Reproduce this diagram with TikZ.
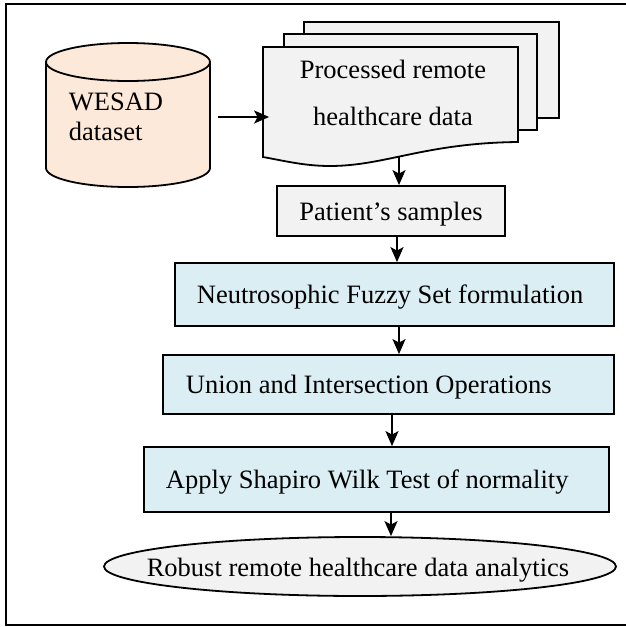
\documentclass[tikz,border=0pt]{standalone}
\usepackage{fontspec}
\setmainfont{Liberation Serif}
\usetikzlibrary{arrows.meta}
\definecolor{peach}{HTML}{FDE9D9}
\definecolor{paper}{HTML}{F2F2F2}
\definecolor{aqua}{HTML}{DAEEF3}
\begin{document}
\begin{tikzpicture}[x=1pt,y=-1pt,
  line width=1.8pt,
  every node/.style={font=\fontsize{26.5}{32}\selectfont},
  arr/.style={line width=2pt,-{Stealth[length=15pt,width=13pt,inset=3.5pt]}},
  greybox/.style={draw,fill=paper,inner sep=0pt},
  bluebox/.style={draw,fill=aqua,inner sep=0pt},
  lbl/.style={inner sep=0pt,anchor=base west}]
\useasboundingbox (0,0) rectangle (626,627);
% outer frame
\draw[line width=2.2pt] (6,4) rectangle (634,625);
% cylinder
\node[inner sep=0pt,minimum width=164pt,minimum height=144pt] (db) at (128,115) {};
\filldraw[fill=peach] (46,62) -- (46,168) arc[start angle=180,end angle=360,x radius=82pt,y radius=19pt]
  -- (210,62) arc[start angle=0,end angle=180,x radius=82pt,y radius=19pt] -- cycle;
\draw (46,62) arc[start angle=180,end angle=360,x radius=82pt,y radius=19pt];
\node[lbl] (wesad) at (68,110) {WESAD};
\node[lbl] (dset) at (68,140) {dataset};
% stacked documents
\filldraw[fill=paper] (304,22) rectangle (559,118);
\filldraw[fill=paper] (284,34) rectangle (537,130);
\filldraw[fill=paper] (263,47) -- (518,47) -- (518,142)
  .. controls (425,143) and (385,166) .. (330,166)
  .. controls (305,166) and (285,161) .. (263,157) -- cycle;
\node[inner sep=0pt,minimum width=255pt,minimum height=110pt] (doc) at (390.5,102) {};
\node[lbl,anchor=base] (doctext1) at (393,78) {Processed remote};
\node[lbl,anchor=base] (doctext2) at (393,125) {healthcare data};
\coordinate (docb) at (399,157);
% boxes
\node[greybox,minimum width=228pt,minimum height=50pt] (pat) at (391,211) {};
\node[lbl,anchor=base] (pattext) at (391,220) {Patient’s samples};
\node[bluebox,minimum width=439pt,minimum height=63pt] (neu) at (394.5,294.5) {};
\node[lbl] (neutext) at (196,303) {Neutrosophic Fuzzy Set formulation};
\node[bluebox,minimum width=451pt,minimum height=59pt] (uni) at (388.5,384.5) {};
\node[lbl] (unitext) at (185,393) {Union and Intersection Operations};
\node[bluebox,minimum width=465pt,minimum height=65pt] (app) at (376.5,479.5) {};
\node[lbl] (apptext) at (165,488) {Apply Shapiro Wilk Test of normality};
\draw[fill=paper] (360,566.5) ellipse[x radius=256pt,y radius=29.5pt];
\node[inner sep=0pt,minimum width=512pt,minimum height=59pt] (ell) at (360,566.5) {};
\node[lbl,anchor=base] (elltext) at (358,576) {Robust remote healthcare data analytics};
% connectors
\draw[arr] ([xshift=7pt,yshift=-2pt]db.east) -- ([xshift=7pt,yshift=-2pt]db.east -| doc.west);
\draw[arr] (docb) -- (docb |- pat.north);
\draw[arr] ([xshift=6pt]pat.south) -- ([xshift=6pt]pat.south |- neu.north);
\draw[arr] ([xshift=4.5pt]neu.south) -- ([xshift=4.5pt]neu.south |- uni.north);
\draw[arr] ([xshift=3.5pt]uni.south) -- ([xshift=3.5pt]uni.south |- app.north);
\draw[arr] ([xshift=14.5pt]app.south) -- ([xshift=14.5pt]app.south |- ell.north);
\end{tikzpicture}
\end{document}
